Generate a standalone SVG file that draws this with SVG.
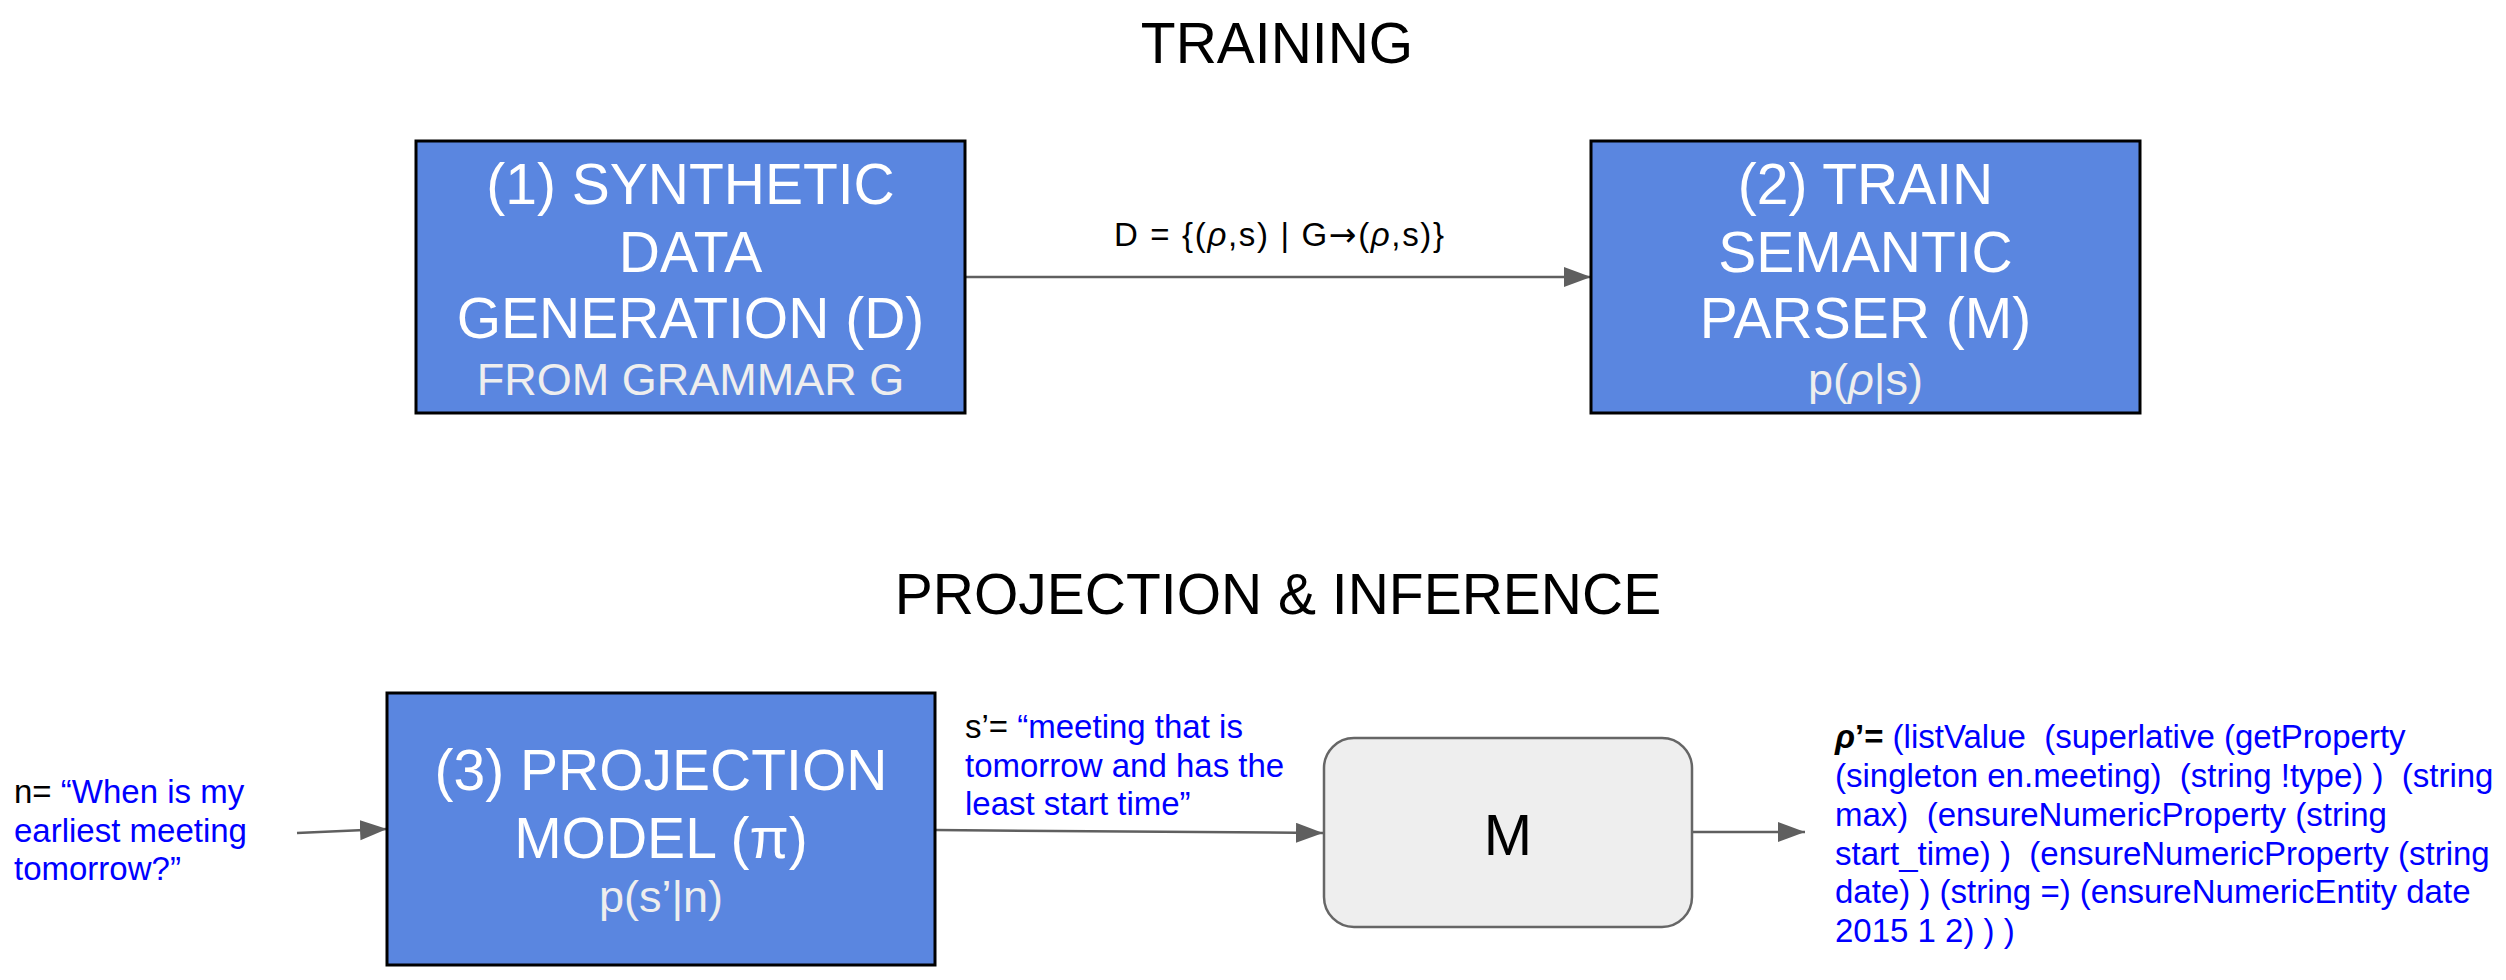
<svg xmlns="http://www.w3.org/2000/svg" width="2506" height="980" viewBox="0 0 2506 980">
<style>
text{font-family:"Liberation Sans",Arial,sans-serif}
.title{font-size:57px;fill:#000;text-anchor:middle}
.box{fill:#5a86e0;stroke:#000;stroke-width:3}
.big{font-size:57px;fill:#fff;text-anchor:middle}
.sub{font-size:45px;fill:#eeeeee;text-anchor:middle}
.lbl{font-size:33px;fill:#000}
.blue{fill:#0000ff}
.conn{stroke:#5f5f5f;stroke-width:2.5;fill:none;marker-end:url(#ah)}
</style>
<defs>
<marker id="ah" markerUnits="userSpaceOnUse" markerWidth="28" markerHeight="22" refX="27" refY="10" orient="auto">
<path d="M0,0 L27,10 L0,20 Z" fill="#5f5f5f"/>
</marker>
</defs>
<rect width="2506" height="980" fill="#fff"/>
<text class="title" x="1277" y="63">TRAINING</text>
<text class="title" x="1278" y="614">PROJECTION &amp; INFERENCE</text>

<g id="connectors">
<line class="conn" x1="966" y1="277" x2="1591" y2="277"/>
<line class="conn" x1="297" y1="833" x2="387" y2="829"/>
<line class="conn" x1="935" y1="830" x2="1323" y2="833"/>
<line class="conn" x1="1692" y1="832" x2="1805" y2="832"/>
<text class="lbl" x="1114" y="246" font-size="34" textLength="330" lengthAdjust="spacing">D = {(<tspan font-style="italic">ρ</tspan>,s) | G<tspan font-family="DejaVu Sans">→</tspan>(<tspan font-style="italic">ρ</tspan>,s)}</text>
</g>

<g id="node1">
<rect class="box" x="416" y="141" width="549" height="272"/>
<text class="big" x="690.5" y="204">(1) SYNTHETIC</text>
<text class="big" x="690.5" y="272">DATA</text>
<text class="big" x="690.5" y="338">GENERATION (D)</text>
<text class="sub" x="690.5" y="395">FROM GRAMMAR G</text>
</g>

<g id="node2">
<rect class="box" x="1591" y="141" width="549" height="272"/>
<text class="big" x="1865.5" y="204">(2) TRAIN</text>
<text class="big" x="1865.5" y="272">SEMANTIC</text>
<text class="big" x="1865.5" y="338">PARSER (M)</text>
<text class="sub" x="1865.5" y="395">p(<tspan font-style="italic">ρ</tspan>|s)</text>
</g>

<g id="node-n">
<text class="lbl" x="14" y="803">n= <tspan class="blue">“When is my</tspan></text>
<text class="lbl blue" x="14" y="842">earliest meeting</text>
<text class="lbl blue" x="14" y="880">tomorrow?”</text>
</g>

<g id="node3">
<rect class="box" x="387" y="693" width="548" height="272"/>
<text class="big" x="661" y="790">(3) PROJECTION</text>
<text class="big" x="661" y="858">MODEL (π)</text>
<text class="sub" x="661" y="912">p(s’|n)</text>
</g>

<g id="node-s">
<text class="lbl" x="965" y="738">s’= <tspan class="blue">“meeting that is</tspan></text>
<text class="lbl blue" x="965" y="777">tomorrow and has the</text>
<text class="lbl blue" x="965" y="815">least start time”</text>
</g>

<g id="nodeM">
<rect x="1324" y="738" width="368" height="189" rx="30" ry="30" fill="#eeeeee" stroke="#666666" stroke-width="2.5"/>
<text x="1508" y="855" font-size="58" text-anchor="middle" fill="#000">M</text>
</g>

<g id="node-rho">
<text class="lbl" x="1835" y="748"><tspan font-style="italic" font-weight="bold">ρ</tspan><tspan font-weight="bold">’=</tspan> <tspan class="blue">(listValue&#160; (superlative (getProperty</tspan></text>
<text class="lbl blue" x="1835" y="787">(singleton en.meeting)&#160; (string !type) )&#160; (string</text>
<text class="lbl blue" x="1835" y="826">max)&#160; (ensureNumericProperty (string</text>
<text class="lbl blue" x="1835" y="865">start_time) )&#160; (ensureNumericProperty (string</text>
<text class="lbl blue" x="1835" y="903">date) ) (string =) (ensureNumericEntity date</text>
<text class="lbl blue" x="1835" y="942">2015 1 2) ) )</text>
</g>
</svg>
